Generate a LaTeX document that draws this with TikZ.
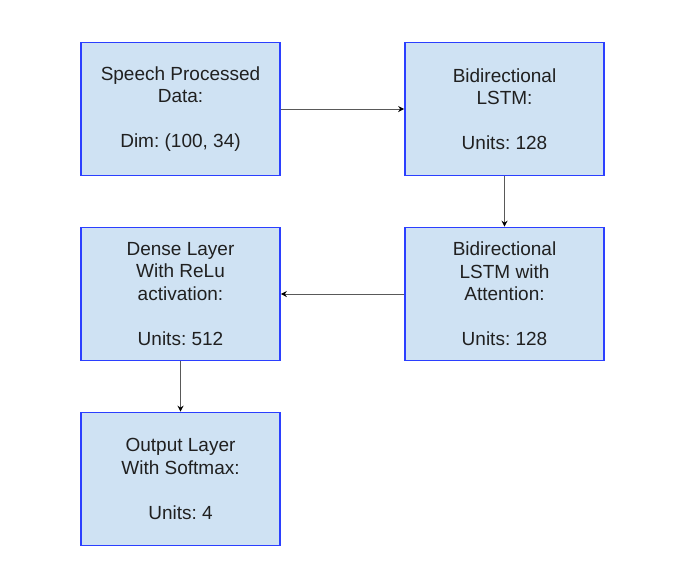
\documentclass[tikz,border=0pt]{standalone}
\usepackage{fontspec}
\setmainfont{Liberation Sans}
\usetikzlibrary{arrows.meta}
\definecolor{boxfill}{HTML}{CFE2F3}
\definecolor{boxline}{HTML}{2B3FFF}
\definecolor{txt}{HTML}{202020}
\frenchspacing
\begin{document}
\begin{tikzpicture}[x=1pt,y=-1pt,
  layer/.style={draw=boxline,fill=boxfill,line width=1.6pt,minimum width=199pt,minimum height=133pt,
    align=center,font=\fontsize{19}{22.5}\selectfont,text=txt,inner sep=0pt},
  conn/.style={draw=black!65,line width=1pt,-{Stealth[length=6pt,width=6pt,color=black]}}]
\useasboundingbox (0,0) rectangle (678,582);
\fill[white] (0,0) rectangle (678,582);
\node[layer] (a) at (180.5,109) {Speech Processed\\Data:\\[22.5pt]Dim: (100, 34)};
\node[layer] (b) at (504.5,109) {Bidirectional\\LSTM:\\[22.5pt]Units: 128};
\node[layer] (d) at (180.5,294) {Dense Layer\\With ReLu\\activation:\\[22.5pt]Units: 512};
\node[layer] (c) at (504.5,294) {Bidirectional\\LSTM with\\Attention:\\[22.5pt]Units: 128};
\node[layer] (e) at (180.5,479) {Output Layer\\With Softmax:\\[22.5pt]Units: 4};
\draw[conn] (a) -- (b);
\draw[conn] (b) -- (c);
\draw[conn] (c) -- (d);
\draw[conn] (d) -- (e);
\end{tikzpicture}
\end{document}
